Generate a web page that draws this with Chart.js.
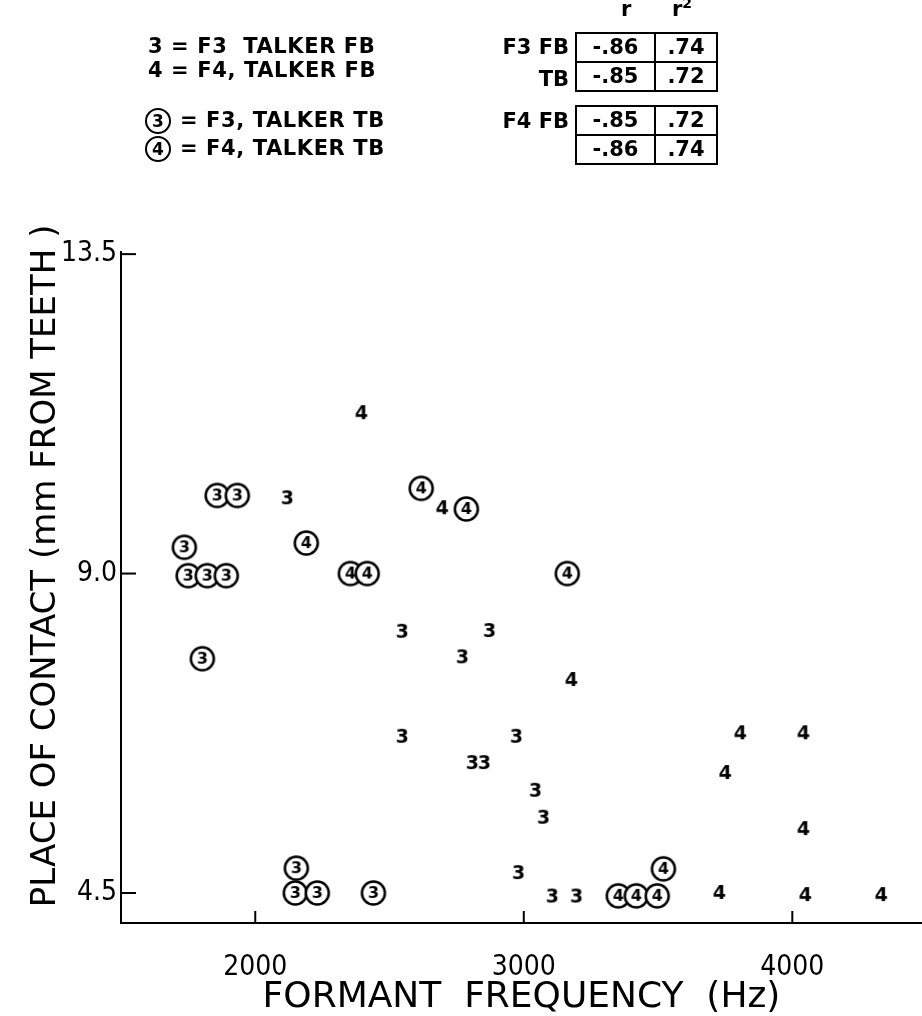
<!DOCTYPE html>
<html>
<head>
<meta charset="utf-8">
<script src="https://cdn.jsdelivr.net/npm/chart.js@4/dist/chart.umd.min.js"></script>
<style>
  html, body { margin:0; padding:0; background:#fff; }
  #wrap { position:relative; width:922px; height:1016px; overflow:hidden; }
  #c { position:absolute; left:0; top:0; }
  .lg { position:absolute; font:bold 21px "DejaVu Sans", sans-serif; letter-spacing:0.6px; color:#000; white-space:pre; line-height:24px; height:24px; }
  .circ { display:inline-block; width:22px; height:22px; border:2.5px solid #000; border-radius:50%; text-align:center; line-height:22px; font-size:17px; letter-spacing:0; vertical-align:middle; margin-right:1px; box-sizing:content-box; }
  table.rt { position:absolute; border-collapse:collapse; font:bold 21px "DejaVu Sans", sans-serif; }
  table.rt td { border:2px solid #000; height:27px; padding:0; text-align:center; line-height:27px; }
  .hd { position:absolute; font:bold 21px "DejaVu Sans", sans-serif; }
</style>
</head>
<body>
<div id="wrap">
  <canvas id="c" width="922" height="1016"></canvas>

  <div class="lg" style="left:148px; top:34px;">3 = F3  TALKER FB</div>
  <div class="lg" style="left:148px; top:58px;">4 = F4, TALKER FB</div>
  <div class="lg" style="left:145px; top:108px;"><span class="circ">3</span> = F3, TALKER TB</div>
  <div class="lg" style="left:145px; top:136px;"><span class="circ">4</span> = F4, TALKER TB</div>

  <div class="hd" style="left:621px; top:-3px;">r</div>
  <div class="hd" style="left:672px; top:-5px;">r<sup style="font-size:14px;">2</sup></div>

  <div class="lg" style="left:450px; width:119px; text-align:right; top:35px; letter-spacing:0;">F3 FB</div>
  <div class="lg" style="left:450px; width:119px; text-align:right; top:67px; letter-spacing:0;">TB</div>
  <div class="lg" style="left:450px; width:119px; text-align:right; top:109px; letter-spacing:0;">F4 FB</div>

  <table class="rt" style="left:575px; top:32px;">
    <tr><td style="width:77px;">-.86</td><td style="width:60px;">.74</td></tr>
    <tr><td>-.85</td><td>.72</td></tr>
  </table>
  <table class="rt" style="left:575px; top:105px;">
    <tr><td style="width:77px;">-.85</td><td style="width:60px;">.72</td></tr>
    <tr><td>-.86</td><td>.74</td></tr>
  </table>
</div>

<script>
// ---- data ----
const xTickValues = [2000, 3000, 4000];
const yTickValues = [4.5, 9.0, 13.5];

// F3, talker FB (plain "3")
const f3fbX = [2119, 2547, 2872, 2771, 2547, 2972, 2808, 2853, 3043, 3073, 2980, 3106, 3196];
const f3fbY = [10.06, 8.18, 8.19, 7.82, 6.70, 6.70, 6.33, 6.33, 5.94, 5.56, 4.78, 4.45, 4.45];

// F4, talker FB (plain "4")
const f4fbX = [2395, 2696, 3177, 3806, 4041, 3750, 4041, 3728, 4048, 4331];
const f4fbY = [11.26, 9.92, 7.50, 6.75, 6.75, 6.19, 5.40, 4.50, 4.47, 4.47];

// F3, talker TB (circled "3")
const f3tbX = [1858, 1933, 1736, 1750, 1821, 1892, 1803, 2153, 2149, 2231, 2440];
const f3tbY = [10.10, 10.10, 9.37, 8.97, 8.97, 8.97, 7.80, 4.85, 4.50, 4.50, 4.50];

// F4, talker TB (circled "4")
const f4tbX = [2190, 2618, 2786, 2354, 2417, 3162, 3520, 3352, 3419, 3497];
const f4tbY = [9.43, 10.20, 9.91, 9.00, 9.00, 9.00, 4.84, 4.46, 4.46, 4.46];

// ---- marker images ----
function digitMarker(d) {
  const cv = document.createElement('canvas');
  cv.width = 22; cv.height = 24;
  const g = cv.getContext('2d');
  g.fillStyle = '#000';
  g.font = 'bold 19px "DejaVu Sans", sans-serif';
  g.textAlign = 'center'; g.textBaseline = 'middle';
  g.fillText(d, 11, 13);
  return cv;
}
function circledMarker(d) {
  const cv = document.createElement('canvas');
  cv.width = 30; cv.height = 30;
  const g = cv.getContext('2d');
  g.beginPath(); g.arc(15, 15, 11.5, 0, Math.PI * 2);
  g.fillStyle = '#fff'; g.fill();
  g.lineWidth = 2.5; g.strokeStyle = '#000'; g.stroke();
  g.fillStyle = '#000';
  g.font = 'bold 16px "DejaVu Sans", sans-serif';
  g.textAlign = 'center'; g.textBaseline = 'middle';
  g.fillText(d, 15, 16);
  return cv;
}
const pts = (xs, ys) => xs.map((x, i) => ({ x: x, y: ys[i] }));

const innerTicks = {
  id: 'innerTicks',
  afterDraw(chart) {
    const { ctx, chartArea, scales } = chart;
    ctx.save();
    ctx.strokeStyle = '#000'; ctx.lineWidth = 2;
    yTickValues.forEach(v => {
      const py = scales.y.getPixelForValue(v);
      ctx.beginPath(); ctx.moveTo(chartArea.left, py); ctx.lineTo(chartArea.left + 15, py); ctx.stroke();
    });
    xTickValues.forEach(v => {
      const px = scales.x.getPixelForValue(v);
      ctx.beginPath(); ctx.moveTo(px, chartArea.bottom); ctx.lineTo(px, chartArea.bottom - 12); ctx.stroke();
    });
    ctx.restore();
  }
};

const numFont = { family: '"DejaVu Sans Condensed", sans-serif', size: 28 };

new Chart(document.getElementById('c'), {
  type: 'scatter',
  data: {
    datasets: [
      { label: 'F3, talker FB', data: pts(f3fbX, f3fbY), pointStyle: digitMarker('3'), pointRadius: 11 },
      { label: 'F4, talker FB', data: pts(f4fbX, f4fbY), pointStyle: digitMarker('4'), pointRadius: 11 },
      { label: 'F3, talker TB', data: pts(f3tbX, f3tbY), pointStyle: circledMarker('3'), pointRadius: 15 },
      { label: 'F4, talker TB', data: pts(f4tbX, f4tbY), pointStyle: circledMarker('4'), pointRadius: 15 }
    ]
  },
  options: {
    responsive: false,
    animation: false,
    devicePixelRatio: 1,
    layout: { autoPadding: false, padding: { top: 252, left: 0, right: 0, bottom: 0 } },
    plugins: { legend: { display: false }, tooltip: { enabled: false } },
    scales: {
      x: {
        type: 'linear', min: 1500, max: 4483,
        afterBuildTicks: s => { s.ticks = xTickValues.map(v => ({ value: v })); },
        afterFit: s => { s.height = 93; s.paddingLeft = 0; s.paddingRight = 0; },
        grid: { display: false, drawTicks: false },
        border: { display: true, color: '#000', width: 2 },
        ticks: { color: '#000', font: numFont, padding: 28, maxRotation: 0, callback: v => String(v) },
        title: { display: true, text: 'FORMANT  FREQUENCY  (Hz)', color: '#000',
                 font: { family: '"DejaVu Sans", sans-serif', size: 36 }, padding: { top: 0, bottom: -3 } }
      },
      y: {
        type: 'linear', min: 4.077, max: 13.53,
        afterBuildTicks: s => { s.ticks = yTickValues.map(v => ({ value: v })); },
        afterFit: s => { s.width = 121; s.paddingTop = 0; s.paddingBottom = 0; },
        grid: { display: false, drawTicks: false },
        border: { display: true, color: '#000', width: 2 },
        ticks: { color: '#000', font: numFont, padding: 4, callback: v => Number(v).toFixed(1) },
        title: { display: true, text: '    PLACE OF CONTACT (mm FROM TEETH )', color: '#000',
                 font: { family: '"DejaVu Sans", sans-serif', size: 34 }, padding: { top: 26, bottom: 0 } }
      }
    }
  },
  plugins: [innerTicks]
});
</script>
</body>
</html>
